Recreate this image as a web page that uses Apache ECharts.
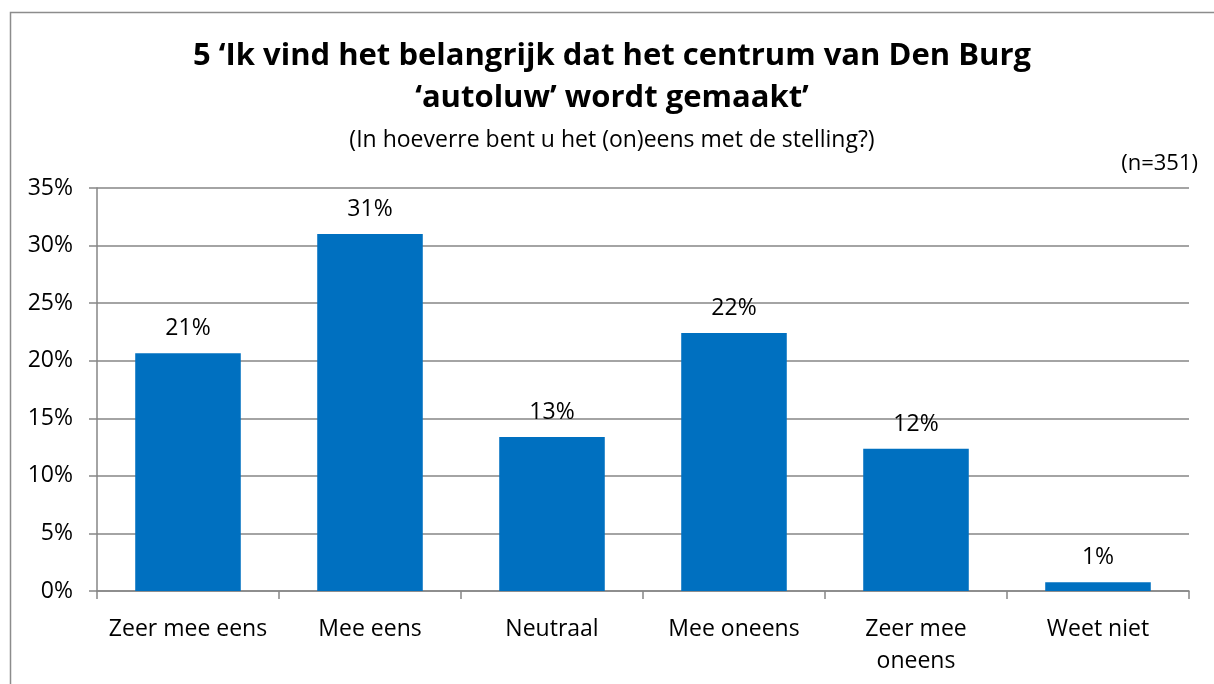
<!DOCTYPE html>
<html>
<head>
<meta charset="utf-8">
<script src="https://cdn.jsdelivr.net/npm/echarts@6/dist/echarts.min.js"></script>
<style>
html,body{margin:0;padding:0;background:#fff;}
#c{width:1214px;height:684px;}
</style>
</head>
<body>
<div id="c"></div>
<script>
var categories = ['Zeer mee eens', 'Mee eens', 'Neutraal', 'Mee oneens', 'Zeer mee\noneens', 'Weet niet'];
var values = [20.65, 31.0, 13.38, 22.4, 12.36, 0.75];
var labels = ['21%', '31%', '13%', '22%', '12%', '1%'];
var titleLines = ["5 \u2018Ik vind het belangrijk dat het centrum van Den Burg", "\u2018autoluw\u2019 wordt gemaakt\u2019"];
var subtitle = '(In hoeverre bent u het (on)eens met de stelling?)';
var nText = '(n=351)';

var FONT = '"Open Sans", Lato, sans-serif';
var chart = echarts.init(document.getElementById('c'));
chart.setOption({
  animation: false,
  backgroundColor: '#fff',
  graphic: [{
    type: 'rect', left: 8, top: 10,
    shape: {x: 0, y: 0, width: 1230, height: 700},
    style: {fill: 'none', stroke: '#8c8c8c', lineWidth: 1.5},
    silent: true
  }, {
    type: 'text', x: 612, y: 56,
    style: {text: titleLines[0], fontFamily: FONT, fontWeight: 'bold', fontSize: 31, fill: '#000', textAlign: 'center', textVerticalAlign: 'middle'}
  }, {
    type: 'text', x: 612, y: 98,
    style: {text: titleLines[1], fontFamily: FONT, fontWeight: 'bold', fontSize: 31, fill: '#000', textAlign: 'center', textVerticalAlign: 'middle'}
  }, {
    type: 'text', x: 612, y: 140,
    style: {text: subtitle, fontFamily: FONT, fontSize: 23, fill: '#000', textAlign: 'center', textVerticalAlign: 'middle'}
  }, {
    type: 'text', x: 1198, y: 164,
    style: {text: nText, fontFamily: FONT, fontSize: 22, fill: '#000', textAlign: 'right', textVerticalAlign: 'middle'}
  }],
  grid: {left: 97, right: 25, top: 188, bottom: 93, containLabel: false},
  xAxis: {
    type: 'category',
    data: categories,
    axisLine: {lineStyle: {color: '#868686', width: 1.5}},
    axisTick: {show: true, length: 8, lineStyle: {color: '#868686', width: 1.5}},
    axisLabel: {fontFamily: FONT, fontSize: 23, color: '#000', margin: 22, lineHeight: 32, interval: 0}
  },
  yAxis: {
    type: 'value', min: 0, max: 35, interval: 5,
    axisLine: {show: true, lineStyle: {color: '#868686', width: 1.5}},
    axisTick: {show: true, length: 8, lineStyle: {color: '#868686', width: 1.5}},
    splitLine: {lineStyle: {color: '#868686', width: 1.5}},
    axisLabel: {fontFamily: FONT, fontSize: 23, color: '#000', margin: 24, formatter: '{value}%'}
  },
  series: [{
    type: 'bar',
    data: values,
    barWidth: '58%',
    itemStyle: {color: '#0070C0'},
    label: {
      show: true, position: 'top', distance: 13,
      fontFamily: FONT, fontSize: 23, color: '#000',
      formatter: function (p) { return labels[p.dataIndex]; }
    }
  }]
});
</script>
</body>
</html>
